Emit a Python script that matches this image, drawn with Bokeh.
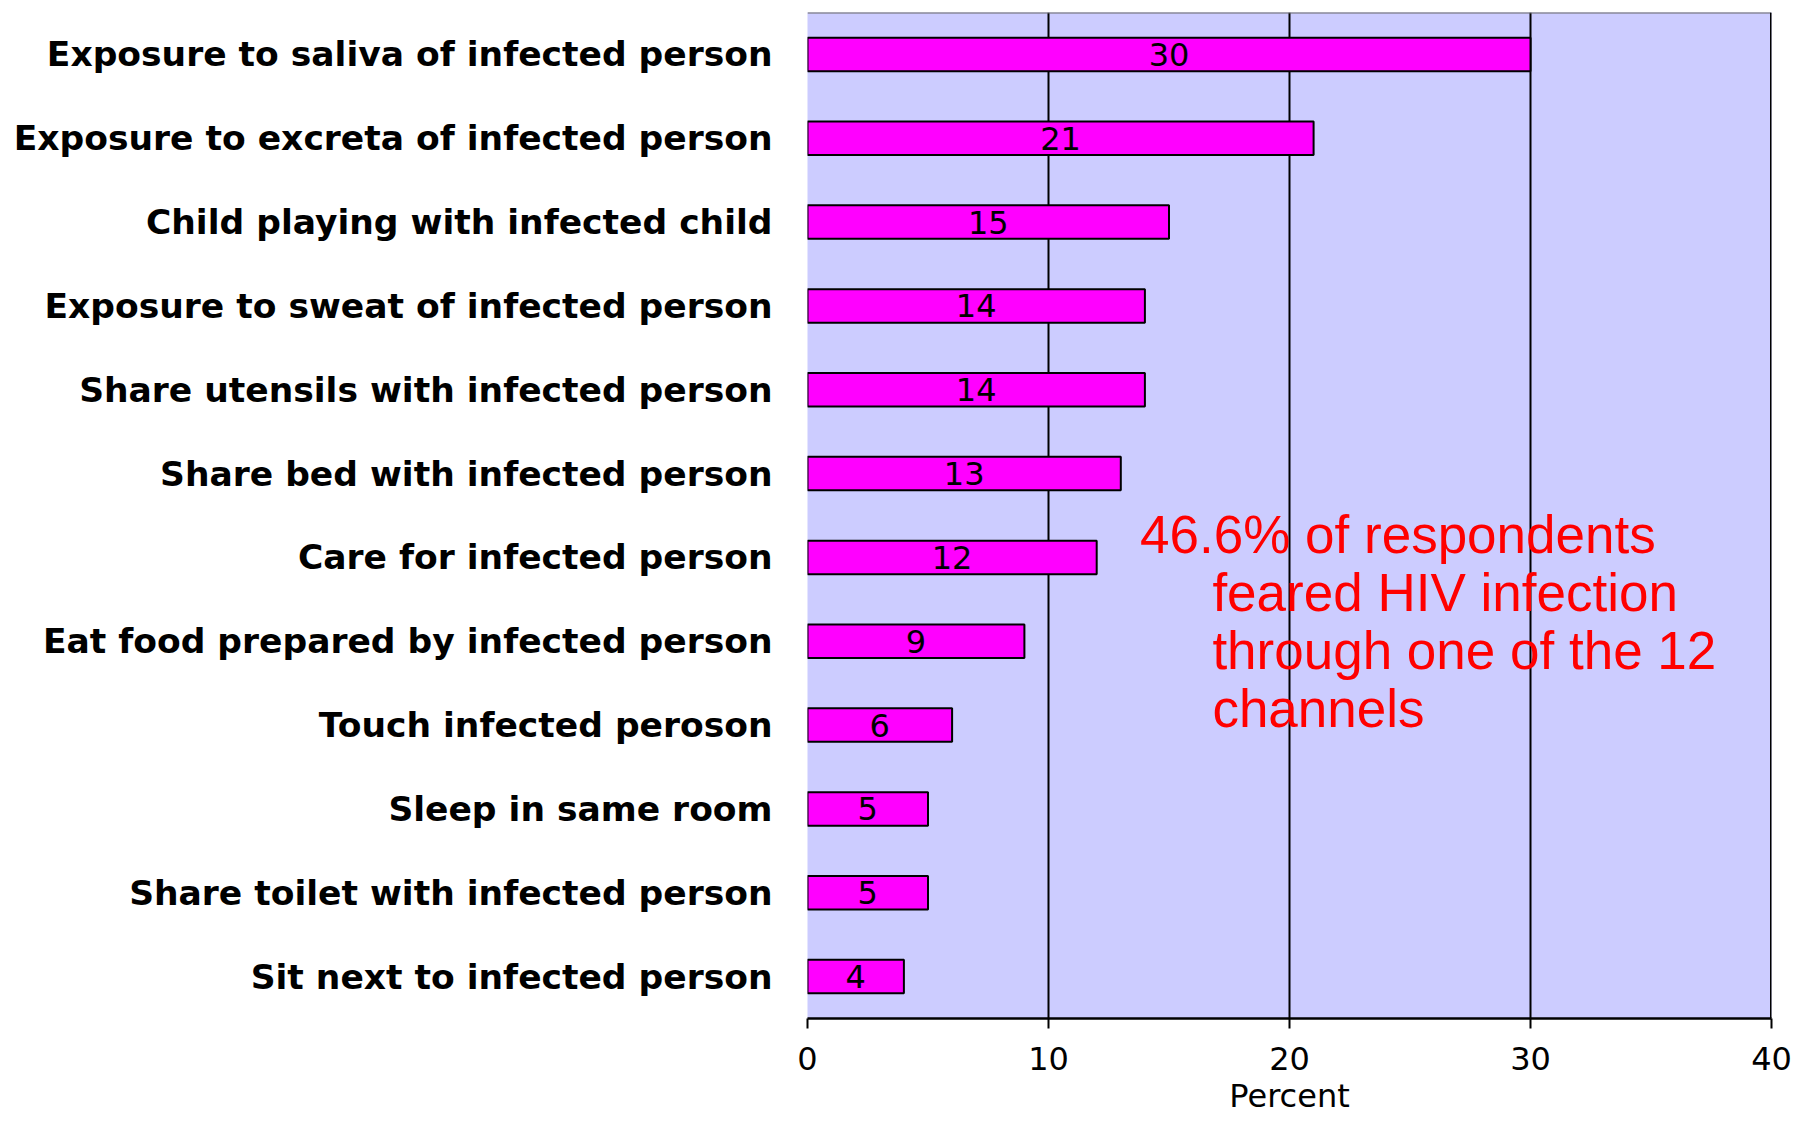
from bokeh.plotting import figure
from bokeh.models import ColumnDataSource, FactorRange, Range1d, Span, FixedTicker, Label
from bokeh.core.properties import value
from bokeh.embed import file_html
from bokeh.resources import INLINE

categories = [
    "Exposure to saliva of infected person",
    "Exposure to excreta of infected person",
    "Child playing with infected child",
    "Exposure to sweat of infected person",
    "Share utensils with infected person",
    "Share bed with infected person",
    "Care for infected person",
    "Eat food prepared by infected person",
    "Touch infected peroson",
    "Sleep in same room",
    "Share toilet with infected person",
    "Sit next to infected person",
]
values = [30, 21, 15, 14, 14, 13, 12, 9, 6, 5, 5, 4]
x_ticks = [0, 10, 20, 30, 40]
x_title = "Percent"
note_lines = [
    "46.6% of respondents",
    "feared HIV infection",
    "through one of the 12",
    "channels",
]

src = ColumnDataSource(dict(
    cat=categories,
    val=values,
    mid=[v / 2 for v in values],
    lbl=[str(v) for v in values],
))

p = figure(
    width=1798, height=1118,
    y_range=FactorRange(factors=list(reversed(categories))),
    x_range=Range1d(0, 40),
    output_backend="svg", toolbar_location=None,
    min_border_left=807, min_border_right=27, min_border_top=12, min_border_bottom=100,
)
p.background_fill_color = "#CCCCFF"
p.border_fill_color = "white"
p.outline_line_color = None

p.hbar(y="cat", right="val", left=0, height=0.4, source=src,
       fill_color="#FF00FF", line_color="black", line_width=2)
p.text(x="mid", y="cat", text="lbl", source=src,
       text_align="center", text_baseline="middle",
       text_font=value("DejaVu Sans"), text_font_size="32px", text_color="black")

# grid
p.ygrid.grid_line_color = None
p.xgrid.grid_line_color = "black"
p.xgrid.grid_line_width = 2
p.xgrid.ticker = FixedTicker(ticks=x_ticks)

# frame edges
p.add_layout(Span(location=12, dimension="width", line_color="#666666", line_width=2))
p.add_layout(Span(location=40, dimension="height", line_color="black", line_width=3))

# x axis
p.xaxis.ticker = FixedTicker(ticks=x_ticks)
p.xaxis.axis_line_color = "black"
p.xaxis.axis_line_width = 2.5
p.xaxis.major_tick_line_color = "black"
p.xaxis.major_tick_line_width = 2
p.xaxis.major_tick_out = 10
p.xaxis.major_tick_in = 0
p.xaxis.minor_tick_line_color = None
p.xaxis.major_label_text_font = "DejaVu Sans"
p.xaxis.major_label_text_font_size = "32px"
p.xaxis.major_label_text_color = "black"
p.xaxis.major_label_standoff = 18
p.xaxis.axis_label = x_title
p.xaxis.axis_label_text_font = "DejaVu Sans"
p.xaxis.axis_label_text_font_size = "32px"
p.xaxis.axis_label_text_font_style = "normal"
p.xaxis.axis_label_text_color = "black"
p.xaxis.axis_label_standoff = 4

# y axis
p.yaxis.axis_line_color = None
p.yaxis.major_tick_line_color = None
p.yaxis.minor_tick_line_color = None
p.yaxis.major_label_text_font = "DejaVu Sans"
p.yaxis.major_label_text_font_style = "bold"
p.yaxis.major_label_text_font_size = "34.5px"
p.yaxis.major_label_text_color = "black"
p.yaxis.major_label_standoff = 29

# annotation
note_x = [13.8, 16.8, 16.8, 16.8]
note_y = [5.77, 5.08, 4.39, 3.70]
for t, nx, ny in zip(note_lines, note_x, note_y):
    p.add_layout(Label(x=nx, y=ny, text=t, text_font="Liberation Sans",
                       text_font_size="53px", text_color="#FF0000",
                       text_baseline="alphabetic", text_align="left"))

open("out.html", "w").write(file_html(p, INLINE))
